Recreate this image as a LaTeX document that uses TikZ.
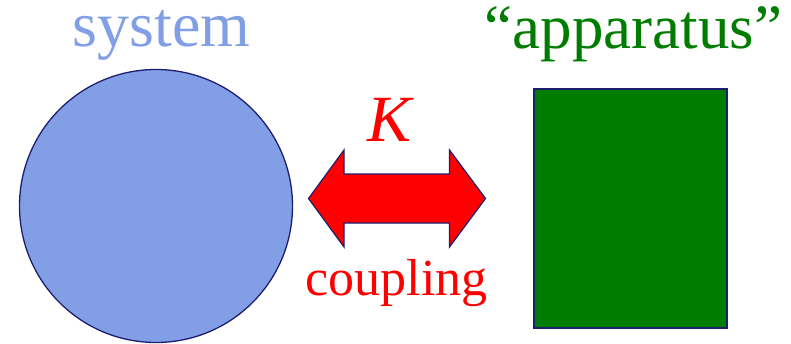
\documentclass[tikz,border=0pt]{standalone}
\usepackage{fontspec}
\setmainfont{Liberation Serif}
\definecolor{sysblue}{RGB}{130,159,230}
\definecolor{edgenavy}{RGB}{30,30,112}
\definecolor{appgreen}{RGB}{0,125,0}

\begin{document}
\begin{tikzpicture}[x=1pt, y=-1pt]
  \useasboundingbox (0,0) rectangle (791,343);

  % system (left) and apparatus (right)
  \draw[edgenavy, line width=1.3pt, fill=sysblue] (156,206) circle (136.5);
  \draw[edgenavy, line width=1.5pt, fill=appgreen] (534,89) rectangle (727,328);

  % titles above the two bodies
  \node[anchor=base, inner sep=0, text=sysblue, font=\fontsize{64}{68}\selectfont] (systitle) at (161.5,46) {system};
  \node[anchor=base, inner sep=0, text=appgreen, font=\fontsize{63}{68}\selectfont] (apptitle) at (633.5,48) {“apparatus”};

  % coupling arrow between them
  \draw[edgenavy, line width=1.2pt, fill=red, line join=miter]
    (308.5,198.5) -- (344,150) -- (344,174) -- (449.5,174) -- (449.5,150) -- (485.5,198.5)
    -- (449.5,247) -- (449.5,223) -- (344,223) -- (344,247) -- cycle;
  \node[anchor=base, inner sep=0, text=red, font=\fontsize{66}{70}\selectfont\itshape] (cK) at (390,141.7) {K};
  \node[anchor=base, inner sep=0, text=red, font=\fontsize{52}{56}\selectfont] (clabel) at (396.5,295) {coupling};
\end{tikzpicture}
\end{document}
